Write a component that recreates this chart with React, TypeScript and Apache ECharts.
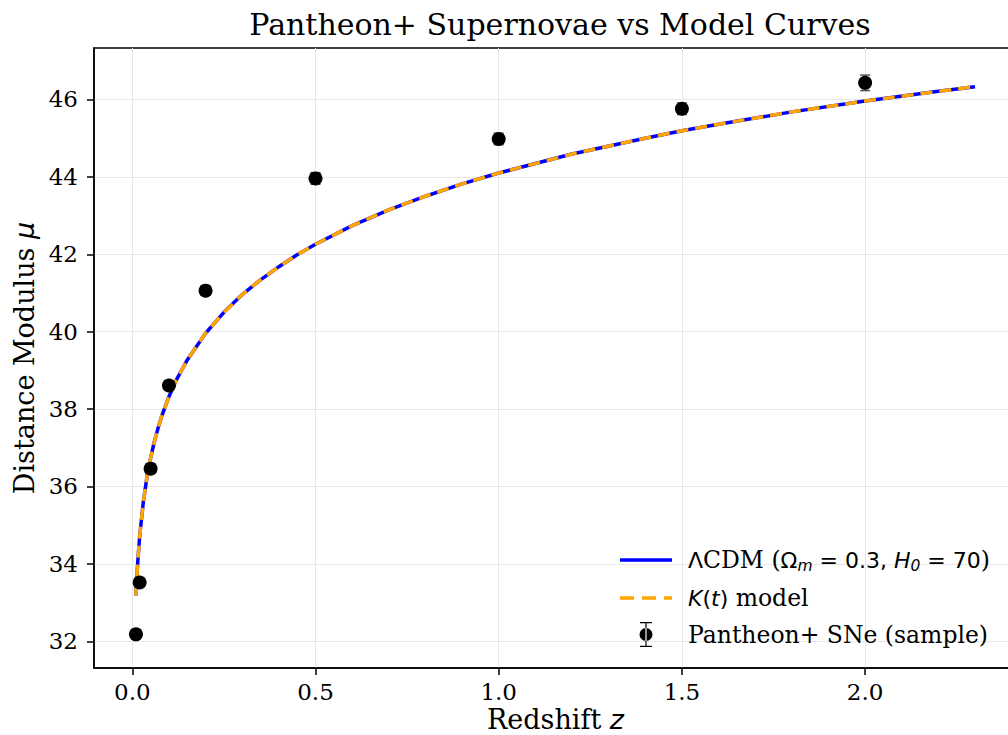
import React, { useEffect, useRef } from "react";
import * as echarts from "echarts";

// ---- data ----
const zCurve = [0.01, 0.0125, 0.015, 0.02, 0.03, 0.04, 0.05, 0.06, 0.07, 0.08, 0.1, 0.12, 0.15, 0.2, 0.25, 0.3, 0.35, 0.4, 0.45, 0.5, 0.6, 0.7, 0.8, 0.9, 1.0, 1.2, 1.4, 1.5, 1.6, 1.8, 2.0, 2.2, 2.3];
const muLcdm = [33.18, 33.66, 34.06, 34.70, 35.59, 36.24, 36.74, 37.15, 37.50, 37.81, 38.32, 38.75, 39.27, 39.96, 40.50, 40.96, 41.34, 41.68, 41.99, 42.26, 42.74, 43.15, 43.50, 43.82, 44.10, 44.59, 45.00, 45.19, 45.36, 45.68, 45.96, 46.21, 46.33];
const muKt = [33.18, 33.66, 34.06, 34.70, 35.59, 36.24, 36.74, 37.15, 37.50, 37.81, 38.32, 38.75, 39.27, 39.96, 40.50, 40.96, 41.34, 41.68, 41.99, 42.26, 42.74, 43.15, 43.50, 43.82, 44.10, 44.59, 45.00, 45.19, 45.36, 45.68, 45.96, 46.21, 46.33];

const zData = [0.01, 0.02, 0.05, 0.1, 0.2, 0.5, 1.0, 1.5, 2.0];
const muData = [32.18, 33.52, 36.46, 38.61, 41.06, 43.96, 44.98, 45.76, 46.43];
const muErr = [0.1, 0.1, 0.12, 0.12, 0.12, 0.15, 0.15, 0.15, 0.2];

const xTicks = [0, 0.5, 1.0, 1.5, 2.0];
const yTicks = [32, 34, 36, 38, 40, 42, 44, 46];

const NAME_L = "ΛCDM (Ωm = 0.3, H0 = 70)";
const NAME_K = "K(t) model";
const NAME_P = "Pantheon+ SNe (sample)";

const SERIF = "DejaVu Serif";
const SANS = "DejaVu Sans";

const errIcon =
  "path://M0.5,0H12.5V1.2H7.1V23.8H12.5V25H0.5V23.8H5.9V1.2H0.5Z M0,12.5A6.5,6.5 0 1,0 13,12.5A6.5,6.5 0 1,0 0,12.5Z";
const solidIcon = "path://M0,0H52V3.5H0Z";
const dashIcon = "path://M0,0H14V3.5H0Z M22,0H36V3.5H22Z M44,0H52V3.5H44Z";

export default function App() {
  const ref = useRef<HTMLDivElement>(null);
  useEffect(() => {
    if (!ref.current) return;
    const chart = echarts.init(ref.current, null, { renderer: "svg" });
    const gridColor = "#e8e8e8";
    const option: any = {
      animation: false,
      backgroundColor: "#ffffff",
      title: {
        text: "Pantheon+ Supernovae vs Model Curves",
        left: 555,
        top: 4,
        textAlign: "center",
        textStyle: { fontFamily: SERIF, fontSize: 30, fontWeight: "normal", color: "#000" },
      },
      grid: {
        left: 94,
        top: 48,
        width: 923,
        height: 620,
        outerBoundsMode: "none",
        show: true,
        borderColor: "#000",
        borderWidth: 1.5,
        backgroundColor: "transparent",
        containLabel: false,
      },
      legend: {
        orient: "vertical",
        left: 615,
        top: 541,
        itemWidth: 52,
        itemHeight: 25,
        itemGap: 12,
        selectedMode: false,
        data: [
          { name: NAME_L, icon: solidIcon, itemStyle: { color: "#0000ff" } },
          { name: NAME_K, icon: dashIcon, itemStyle: { color: "#ffa500" } },
          { name: NAME_P, icon: errIcon, itemStyle: { color: "#000" } },
        ],
        formatter: (name: string) => {
          if (name === NAME_L)
            return "{p| }{g|Λ}{s|CDM (}{g|Ω}{sub|m}{g| = 0.3, }{gi|H}{sub|0}{g| = 70}{s|)}";
          if (name === NAME_K) return "{p| }{gi|K}{g|(}{gi|t}{g|)}{s| model}";
          return "{p| }{s|Pantheon+ SNe (sample)}";
        },
        textStyle: {
          color: "#000",
          fontFamily: SERIF,
          fontSize: 23,
          rich: {
            p: { width: 11, fontSize: 23 },
            s: { fontFamily: SERIF, fontSize: 23.5, color: "#000", lineHeight: 28 },
            g: { fontFamily: SANS, fontSize: 22, color: "#000", lineHeight: 28 },
            gi: { fontFamily: SANS, fontStyle: "italic", fontSize: 22, color: "#000", lineHeight: 28 },
            sub: { fontFamily: SANS, fontStyle: "italic", fontSize: 15.5, color: "#000", padding: [12, 0, 0, 0], lineHeight: 28 },
          },
        },
      },
      xAxis: {
        type: "value",
        min: -0.1045,
        max: 2.4145,
        name: "{s|Redshift }{i|z}",
        nameLocation: "middle",
        nameGap: 37,
        nameMoveOverlap: false,
        nameTextStyle: {
          rich: {
            s: { fontFamily: SERIF, fontSize: 27, color: "#000", lineHeight: 28 },
            i: { fontFamily: SANS, fontStyle: "italic", fontSize: 27, color: "#000", lineHeight: 28 },
          },
        },
        axisLine: { show: true, onZero: false, lineStyle: { color: "#000", width: 1.5 } },
        axisTick: { show: true, inside: false, length: 7, customValues: xTicks, lineStyle: { color: "#000", width: 1.5 } },
        axisLabel: {
          show: true,
          margin: 12,
          customValues: xTicks,
          formatter: (v: number) => v.toFixed(1),
          fontFamily: SERIF,
          fontSize: 23,
          color: "#000",
        },
        splitLine: { show: true, lineStyle: { color: gridColor, width: 1 } },
      },
      yAxis: {
        type: "value",
        min: 31.31,
        max: 47.33,
        name: "{s|Distance Modulus }{i|μ}",
        nameLocation: "middle",
        nameGap: 50,
        nameRotate: 90,
        nameTextStyle: {
          rich: {
            s: { fontFamily: SERIF, fontSize: 27, color: "#000" },
            i: { fontFamily: SANS, fontStyle: "italic", fontSize: 27, color: "#000" },
          },
        },
        axisLine: { show: true, onZero: false, lineStyle: { color: "#000", width: 1.5 } },
        axisTick: { show: true, inside: false, length: 7, customValues: yTicks, lineStyle: { color: "#000", width: 1.5 } },
        axisLabel: {
          show: true,
          margin: 16,
          customValues: yTicks,
          formatter: (v: number) => String(Math.round(v)),
          fontFamily: SERIF,
          fontSize: 23,
          color: "#000",
        },
        splitLine: { show: true, lineStyle: { color: gridColor, width: 1 } },
      },
      series: [
        {
          name: NAME_L,
          type: "line",
          data: zCurve.map((z, i) => [z, muLcdm[i]]),
          showSymbol: false,
          symbol: "none",
          color: "#0000ff",
          lineStyle: { color: "#0000ff", width: 3.5, join: "round" },
          z: 2,
        },
        {
          name: NAME_K,
          type: "line",
          data: zCurve.map((z, i) => [z, muKt[i]]),
          showSymbol: false,
          symbol: "none",
          color: "#ffa500",
          lineStyle: { color: "#ffa500", width: 3.5, type: [12, 7], cap: "butt", join: "round" },
          z: 3,
        },
        {
          name: "errbars",
          type: "custom",
          data: zData.map((z, i) => [z, muData[i], muErr[i]]),
          encode: { x: 0, y: 1 },
          z: 4,
          renderItem: (params: any, api: any) => {
            const x = api.value(0);
            const y = api.value(1);
            const e = api.value(2);
            const top = api.coord([x, y + e]);
            const bot = api.coord([x, y - e]);
            const hw = 5;
            const st = { stroke: "#555555", lineWidth: 1.5 };
            return {
              type: "group",
              children: [
                { type: "line", shape: { x1: top[0], y1: top[1], x2: bot[0], y2: bot[1] }, style: st },
                { type: "line", shape: { x1: top[0] - hw, y1: top[1], x2: top[0] + hw, y2: top[1] }, style: st },
                { type: "line", shape: { x1: bot[0] - hw, y1: bot[1], x2: bot[0] + hw, y2: bot[1] }, style: st },
              ],
            };
          },
        },
        {
          name: NAME_P,
          type: "scatter",
          data: zData.map((z, i) => [z, muData[i]]),
          symbol: "circle",
          symbolSize: 14,
          color: "#000",
          itemStyle: { color: "#000", opacity: 1 },
          z: 5,
        },
      ],
    };
    chart.setOption(option);
    return () => chart.dispose();
  }, []);
  return (
    <div
      ref={ref}
      style={{ position: "absolute", left: 0, top: 0, width: 1008, height: 735, background: "#fff" }}
    />
  );
}
